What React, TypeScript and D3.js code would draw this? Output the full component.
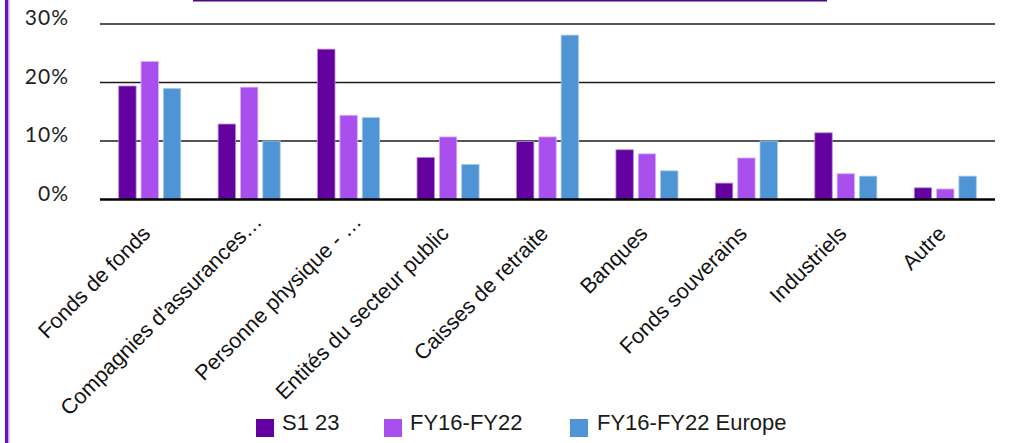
import React from "react";
import * as d3 from "d3";

const categories = [
  "Fonds de fonds",
  "Compagnies d'assurances…",
  "Personne physique - …",
  "Entités du secteur public",
  "Caisses de retraite",
  "Banques",
  "Fonds souverains",
  "Industriels",
  "Autre",
];
const seriesNames = ["S1 23", "FY16-FY22", "FY16-FY22 Europe"];
const s1_23 = [19.4, 12.9, 25.7, 7.2, 9.9, 8.5, 2.8, 11.4, 2.0];
const fy16_22 = [23.6, 19.2, 14.4, 10.7, 10.7, 7.8, 7.1, 4.4, 1.8];
const fy16_22_europe = [19.0, 10.0, 14.0, 6.0, 28.1, 4.9, 10.0, 4.0, 4.0];
const yTicks = [0, 10, 20, 30];

const colors = ["#63009F", "#A94FEE", "#4F94D4"];
const edgeColors = ["#b48ad8", "#d6b2f7", "#a9cbec"];

export default function App() {
  const W = 1010;
  const H = 443;
  const seriesData = [s1_23, fy16_22, fy16_22_europe];

  const x0 = d3
    .scaleBand<string>()
    .domain(categories)
    .range([100, 995])
    .paddingInner(0.376)
    .paddingOuter(0.188);
  const x1 = d3
    .scaleBand<string>()
    .domain(seriesNames)
    .range([0, x0.bandwidth()])
    .paddingInner(0.22);
  const y = d3.scaleLinear().domain([0, 30]).range([199.5, 24]);

  const legendPos = [
    { sx: 256, tx: 282 },
    { sx: 384, tx: 410 },
    { sx: 570, tx: 597 },
  ];

  return (
    <svg
      width={W}
      height={H}
      style={{ position: "absolute", left: 0, top: 0, display: "block", background: "#fff" }}
    >
      <rect x={0} y={0} width={W} height={H} fill="#ffffff" />
      {/* decorative frame */}
      <rect x={5} y={0} width={3} height={H} fill="#6d10c3" />
      <rect x={8} y={0} width={1.5} height={H} fill="#c9a2f0" />
      <rect x={193} y={0} width={634} height={1.5} fill="#4a0a82" />

      {/* gridlines */}
      {yTicks
        .filter((t) => t !== 0)
        .map((t) => (
          <line
            key={t}
            x1={100}
            x2={995}
            y1={y(t)}
            y2={y(t)}
            stroke="#1c1c1c"
            strokeWidth={1.5}
          />
        ))}

      {/* y labels */}
      {yTicks.map((t) => (
        <text
          key={"yl" + t}
          x={69}
          y={y(t) + 1}
          textAnchor="end"
          fontFamily="Lato, 'DejaVu Sans', sans-serif"
          fontSize={21}
          letterSpacing={1}
          fill="#1f1f1f"
        >
          {t + "%"}
        </text>
      ))}

      {/* bars */}
      {categories.map((c, i) => (
        <g key={c} transform={`translate(${x0(c)},0)`}>
          {seriesNames.map((s, j) => {
            const v = seriesData[j][i];
            return (
              <rect
                key={s}
                x={x1(s)}
                y={y(v)}
                width={x1.bandwidth()}
                height={y(0) - y(v)}
                fill={colors[j]}
                stroke={edgeColors[j]}
                strokeWidth={0.8}
              />
            );
          })}
        </g>
      ))}

      {/* baseline */}
      <line x1={100} x2={995} y1={y(0)} y2={y(0)} stroke="#000" strokeWidth={2.5} />

      {/* x labels */}
      {categories.map((c) => {
        const cx = (x0(c) as number) + x0.bandwidth() / 2 + 2;
        const truncated = c.endsWith("…");
        return (
          <text
            key={"xl" + c}
            transform={`translate(${cx},235) rotate(-45)`}
            textAnchor="end"
            dx={truncated ? 17 : 0}
            fontFamily="'Liberation Sans', Arial, sans-serif"
            fontSize={21.5}
            fill="#111"
          >
            {c}
          </text>
        );
      })}

      {/* legend */}
      {seriesNames.map((s, j) => (
        <g key={"lg" + s}>
          <rect x={legendPos[j].sx} y={419} width={18} height={18} fill={colors[j]} />
          <text
            x={legendPos[j].tx}
            y={430}
            fontFamily="'Liberation Sans', Arial, sans-serif"
            fontSize={22}
            fill="#1a1a1a"
          >
            {s}
          </text>
        </g>
      ))}
    </svg>
  );
}
